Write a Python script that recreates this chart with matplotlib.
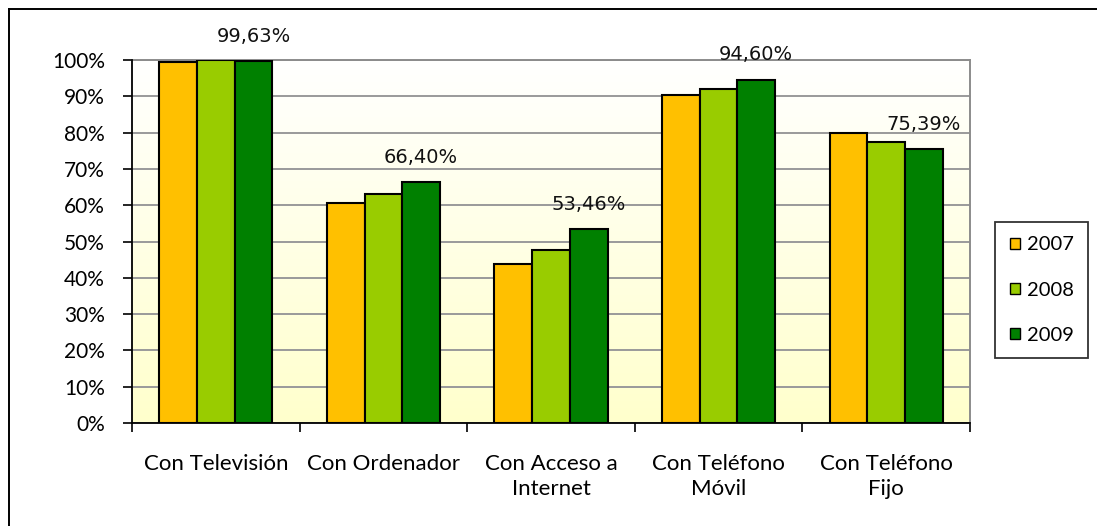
import numpy as np
import matplotlib
matplotlib.use("Agg")
import matplotlib.pyplot as plt
from matplotlib.patches import Patch
from matplotlib.lines import Line2D
from matplotlib.colors import LinearSegmentedColormap

categories = ["Con Televisión", "Con Ordenador", "Con Acceso a\nInternet",
              "Con Teléfono\nMóvil", "Con Teléfono\nFijo"]
years = ["2007", "2008", "2009"]
v2007 = [99.4, 60.5, 43.9, 90.4, 79.8]
v2008 = [99.9, 63.2, 47.7, 91.9, 77.5]
v2009 = [99.63, 66.40, 53.46, 94.60, 75.39]
yticks = [0, 10, 20, 30, 40, 50, 60, 70, 80, 90, 100]
colors = ["#FFC000", "#99CC00", "#008000"]

fig = plt.figure(figsize=(10.97, 5.26), dpi=100)
ax = fig.add_axes([132/1097, 1-423/526, (970-132)/1097, (423-60)/526])

# gradient background: white at top, pale yellow at bottom
cmap = LinearSegmentedColormap.from_list("bg", ["#FFFFFF", "#FFFFCC"])
grad = np.linspace(0, 1, 256).reshape(-1, 1)
ax.imshow(grad, cmap=cmap, aspect="auto", extent=[0, 1, 0, 1],
          origin="upper", transform=ax.transAxes, zorder=0)

x = np.arange(len(categories))
w = 0.225
series = [v2007, v2008, v2009]
for i, (vals, c) in enumerate(zip(series, colors)):
    ax.bar(x + (i - 1) * w, vals, width=w, color=c, edgecolor="black",
           linewidth=1.5, zorder=3)

for xi, v in zip(x, v2009):
    ax.annotate(f"{v:.2f}%".replace(".", ","), xy=(xi + w, v),
                xytext=(0, 11), textcoords="offset points",
                ha="center", va="bottom", fontsize=14,
                family="DejaVu Sans", color="#111111", zorder=5)

ax.set_xlim(-0.5, len(categories) - 0.5)
ax.set_ylim(0, 100)
ax.set_yticks(yticks)
ax.set_yticklabels([f"{t}%" for t in yticks], family="Lato", fontsize=15)
ax.yaxis.grid(True, color="#9A9A9A", linewidth=1.4, zorder=1)
ax.set_axisbelow(True)

ax.set_xticks(np.arange(len(categories) + 1) - 0.5)
ax.set_xticklabels([])
ax.set_xticks(x, minor=True)
ax.set_xticklabels(categories, minor=True, family="Lato", fontsize=16,
                   linespacing=1.32)
ax.tick_params(axis="x", which="minor", length=0, pad=22)
ax.tick_params(axis="x", which="major", length=6.5, width=1.2, color="black",
               direction="out")
ax.tick_params(axis="y", length=6.5, width=1.2, color="black", pad=13)

for s in ["left", "bottom"]:
    ax.spines[s].set_color("black")
    ax.spines[s].set_linewidth(1.3)
    ax.spines[s].set_zorder(4)
for s in ["top", "right"]:
    ax.spines[s].set_color("#8C8C8C")
    ax.spines[s].set_linewidth(1.4)

handles = [Patch(facecolor=c, edgecolor="black", linewidth=1.0) for c in colors]
leg = fig.legend(handles, years, loc="upper left",
                 bbox_to_anchor=(995/1097, 1-222/526),
                 prop={"family": "Lato", "size": 14.5},
                 frameon=True, fancybox=False, edgecolor="black",
                 handlelength=0.5, handleheight=0.5, handletextpad=0.35,
                 labelspacing=1.4, borderpad=0.72, borderaxespad=0)
leg.get_frame().set_linewidth(1.3)

# outer chart border (top and left visible)
fig.add_artist(Line2D([9/1097, 1], [1-9/526, 1-9/526], color="black",
                      linewidth=1.4, transform=fig.transFigure))
fig.add_artist(Line2D([9/1097, 9/1097], [0, 1-9/526], color="black",
                      linewidth=1.4, transform=fig.transFigure))

fig.savefig("out.png", dpi=100)
